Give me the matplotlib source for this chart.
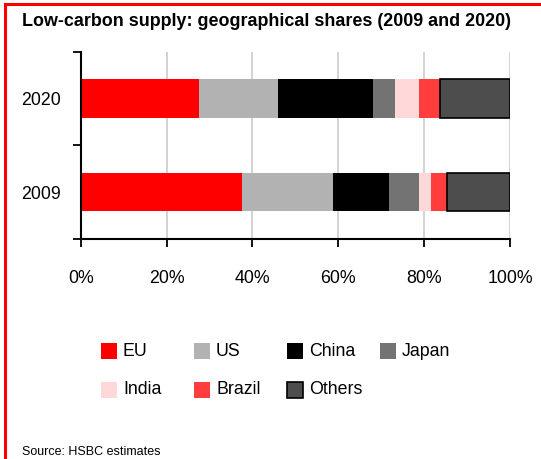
import matplotlib
matplotlib.use("Agg")
import matplotlib.pyplot as plt
from matplotlib.patches import Rectangle
from matplotlib.lines import Line2D

plt.rcParams["font.family"] = ["Liberation Sans", "DejaVu Sans"]

# ── Data ────────────────────────────────────────────────────────────────────
years = ["2009", "2020"]
regions = ["EU", "US", "China", "Japan", "India", "Brazil", "Others"]
shares_2009 = [37.5, 21.2, 13.0, 7.2, 2.6, 3.8, 14.7]
shares_2020 = [27.5, 18.4, 22.1, 5.1, 5.8, 4.7, 16.4]
colours = ["#ff0000", "#b2b2b2", "#000000", "#737373", "#ffd9d9", "#ff3d3d", "#4d4d4d"]
xticks = [0, 20, 40, 60, 80, 100]

W, H = 541, 459
fig = plt.figure(figsize=(W / 100, H / 100), dpi=100)

def fx(px):
    return px / W

def fy(py):
    return 1 - py / H

# ── Red frame (top and left) ────────────────────────────────────────────────
fig.add_artist(Line2D([fx(5), fx(541)], [fy(4), fy(4)], color="#ff0000", lw=2.2))
fig.add_artist(Line2D([fx(5), fx(5)], [fy(4), fy(459)], color="#ff0000", lw=2.2))

fig.text(fx(22), fy(22), "Low-carbon supply: geographical shares (2009 and 2020)",
         fontsize=12.9, fontweight="bold", va="center", ha="left")

# ── Stacked bars ────────────────────────────────────────────────────────────
ax = fig.add_axes([fx(80.7), fy(239), fx(510) - fx(80.7), fy(51.7) - fy(239)])
ax.set_axisbelow(True)
ax.grid(axis="x", color="#d0d0d0", lw=1.3)

rows = [shares_2009, shares_2020]
for i, vals in enumerate(rows):
    left = 0
    for name, v, c in zip(regions, vals, colours):
        edge = "black" if name == "Others" else "none"
        ax.barh(i, v, left=left, height=0.41, color=c, edgecolor=edge,
                linewidth=1.2 if name == "Others" else 0)
        left += v

ax.set_xlim(0, 100)
ax.set_ylim(-0.5, 1.5)
ax.set_xticks(xticks)
ax.set_xticklabels([f"{t}%" for t in xticks], fontsize=12.8)
ax.set_yticks(range(len(years)))
ax.set_yticklabels(years, fontsize=12.8)
ax.set_yticks([-0.5, 0.5, 1.5], minor=True)
ax.tick_params(axis="y", which="major", length=0, pad=14.5)
ax.tick_params(axis="y", which="minor", length=6, width=1.3, direction="out")
ax.tick_params(axis="x", length=6, width=1.3, pad=16.5)
for s in ["top", "right"]:
    ax.spines[s].set_visible(False)
for s in ["left", "bottom"]:
    ax.spines[s].set_linewidth(1.5)

# ── Legend grid ─────────────────────────────────────────────────────────────
col_x = [101, 194, 287, 380]
row_y = [351, 390]
for k, (name, c) in enumerate(zip(regions, colours)):
    x0 = col_x[k % 4]
    y0 = row_y[k // 4]
    edge = "black" if name == "Others" else c
    fig.add_artist(Rectangle((fx(x0), fy(y0 + 8)), fx(16), 16 / H,
                             facecolor=c, edgecolor=edge, lw=1.2 if name == "Others" else 0))
    fig.text(fx(x0 + 22), fy(y0), name, fontsize=12.8, va="center", ha="left")

fig.text(fx(22), fy(452), "Source: HSBC estimates", fontsize=9, va="center", ha="left")

plt.savefig("out.png", dpi=100)
plt.close()
